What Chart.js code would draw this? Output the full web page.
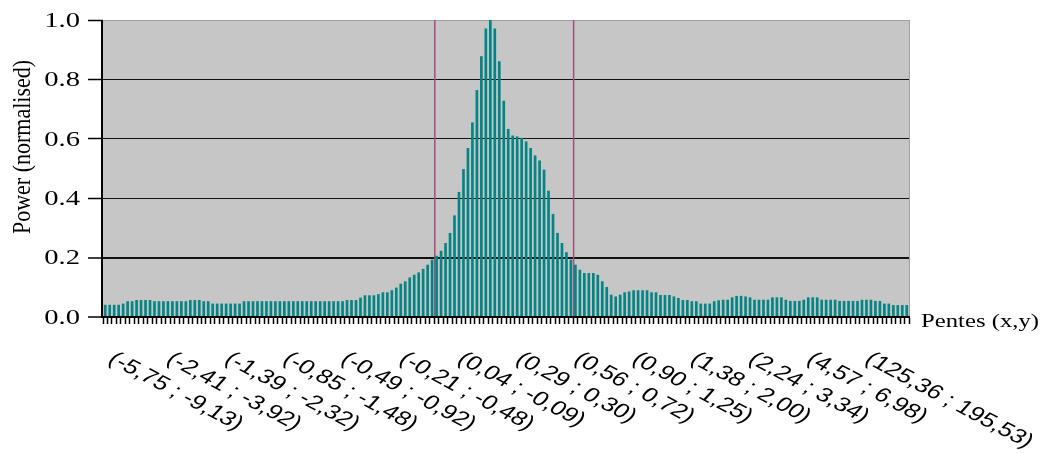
<!DOCTYPE html>
<html><head><meta charset="utf-8">
<script src="https://cdn.jsdelivr.net/npm/chart.js@4/dist/chart.umd.min.js"></script>
<style>html,body{margin:0;padding:0;background:#fff}canvas{display:block}</style>
</head><body>
<canvas id="c" width="1040" height="453" style="width:1040px;height:453px"></canvas>
<script>
// ---- data ----
const values = [
  0.040,0.040,0.040,0.040,0.044,0.052,0.052,0.056,0.056,0.056,
  0.056,0.052,0.052,0.052,0.052,0.052,0.052,0.052,0.052,0.056,
  0.056,0.056,0.052,0.052,0.044,0.044,0.044,0.044,0.044,0.044,
  0.044,0.052,0.052,0.052,0.052,0.052,0.052,0.052,0.052,0.052,
  0.052,0.052,0.052,0.052,0.052,0.052,0.052,0.052,0.052,0.052,
  0.052,0.052,0.052,0.052,0.056,0.056,0.056,0.064,0.072,0.072,
  0.072,0.076,0.082,0.082,0.089,0.098,0.111,0.119,0.132,0.141,
  0.149,0.161,0.175,0.192,0.205,0.222,0.248,0.282,0.341,0.420,
  0.497,0.568,0.654,0.763,0.877,0.970,1.000,0.970,0.860,0.727,
  0.632,0.610,0.607,0.602,0.590,0.568,0.543,0.526,0.495,0.424,
  0.346,0.282,0.248,0.217,0.192,0.175,0.158,0.147,0.147,0.147,
  0.141,0.119,0.100,0.074,0.068,0.074,0.082,0.085,0.089,0.089,
  0.089,0.089,0.082,0.082,0.073,0.073,0.073,0.068,0.063,0.056,
  0.056,0.052,0.052,0.044,0.044,0.044,0.052,0.055,0.057,0.057,
  0.065,0.070,0.070,0.068,0.065,0.057,0.057,0.057,0.057,0.065,
  0.065,0.065,0.057,0.053,0.053,0.053,0.057,0.065,0.065,0.065,
  0.057,0.057,0.057,0.057,0.053,0.053,0.053,0.053,0.053,0.057,
  0.057,0.057,0.053,0.053,0.044,0.044,0.039,0.039,0.039,0.039
];
const tickLabels = [
  "(-5,75 ; -9,13)", "(-2,41 ; -3,92)", "(-1,39 ; -2,32)", "(-0,85 ; -1,48)",
  "(-0,49 ; -0,92)", "(-0,21 ; -0,48)", "(0,04 ; -0,09)", "(0,29 ; 0,30)",
  "(0,56 ; 0,72)", "(0,90 ; 1,25)", "(1,38 ; 2,00)", "(2,24 ; 3,34)",
  "(4,57 ; 6,98)", "(125,36 ; 195,53)"
];
const labelEvery = 13;
const yTicks = [0, 0.2, 0.4, 0.6, 0.8, 1.0];
const markerPositions = [73.6, 104.6];
const yTitle = "Power (normalised)";
const xTitle = "Pentes (x,y)";
const categories = values.map((_, i) => String(i));

const STRETCH = 1.3;
const X_ANGLE = Math.atan(Math.tan(28 * Math.PI / 180) * STRETCH);

const decor = {
  id: 'decor',
  beforeDraw(chart) {
    const { ctx, chartArea: a } = chart;
    ctx.save();
    ctx.fillStyle = '#c6c6c6';
    ctx.fillRect(a.left - 2, a.top, a.right - a.left + 2, a.bottom - a.top);
    ctx.restore();
  },
  beforeDatasetsDraw(chart) {
    const { ctx, chartArea: a } = chart;
    const xs = chart.scales.x;
    ctx.save();
    ctx.strokeStyle = '#a0507a';
    ctx.lineWidth = 1.5;
    markerPositions.forEach(p => {
      const x = xs.getPixelForValue(p);
      ctx.beginPath(); ctx.moveTo(x, a.top); ctx.lineTo(x, a.bottom); ctx.stroke();
    });
    ctx.restore();
  },
  afterDraw(chart) {
    const { ctx, chartArea: a } = chart;
    const xs = chart.scales.x, ys = chart.scales.y;
    ctx.save();
    // right border
    ctx.strokeStyle = '#a0a0a0'; ctx.lineWidth = 1;
    ctx.beginPath(); ctx.moveTo(a.right + 0.5, a.top); ctx.lineTo(a.right + 0.5, a.bottom); ctx.stroke();
    // axes lines
    ctx.strokeStyle = '#000'; ctx.lineWidth = 2;
    ctx.beginPath(); ctx.moveTo(a.left - 1, a.top); ctx.lineTo(a.left - 1, a.bottom + 1); ctx.stroke();
    ctx.beginPath(); ctx.moveTo(a.left - 2, a.bottom); ctx.lineTo(a.right + 1, a.bottom); ctx.stroke();
    ctx.fillStyle = '#000';
    // y tick labels
    ctx.font = '22px "Liberation Serif"';
    ctx.textAlign = 'right'; ctx.textBaseline = 'middle';
    yTicks.forEach(v => {
      const y = ys.getPixelForValue(v);
      ctx.save(); ctx.translate(80, y + 1); ctx.scale(STRETCH, 1);
      ctx.fillText(v.toFixed(1), 0, 0); ctx.restore();
    });
    // y title
    ctx.save(); ctx.translate(23, 147); ctx.scale(1.15, 1); ctx.rotate(-Math.PI / 2);
    ctx.textAlign = 'center'; ctx.textBaseline = 'middle';
    ctx.fillText(yTitle, 0, 0); ctx.restore();
    // x title
    ctx.save(); ctx.translate(a.right + 12, a.bottom + 5); ctx.scale(STRETCH, 1);
    ctx.font = '19px "Liberation Serif"'; ctx.textAlign = 'left'; ctx.textBaseline = 'middle';
    ctx.fillText(xTitle, 0, 0); ctx.restore();
    // x labels
    ctx.font = '20px "Liberation Sans"'; ctx.textAlign = 'left'; ctx.textBaseline = 'top';
    tickLabels.forEach((t, j) => {
      const x = xs.getPixelForValue(j * labelEvery) + 13;
      ctx.save(); ctx.translate(x, a.bottom + 32); ctx.scale(STRETCH, 1); ctx.rotate(X_ANGLE);
      ctx.fillText(t, 0, 0); ctx.restore();
    });
    ctx.restore();
  }
};

new Chart(document.getElementById('c'), {
  type: 'bar',
  data: {
    labels: categories,
    datasets: [{ data: values, backgroundColor: '#008484', borderWidth: 0, barThickness: 2 }]
  },
  options: {
    responsive: false, animation: false, devicePixelRatio: 1,
    layout: { padding: { left: 0, top: 20, right: 131, bottom: 116 } },
    plugins: { legend: { display: false }, tooltip: { enabled: false } },
    scales: {
      x: {
        ticks: { display: false },
        afterFit: s => { s.height = 20; },
        border: { display: true, color: '#000', width: 2 },
        grid: { drawOnChartArea: false, drawTicks: true, tickLength: 7, tickColor: '#000', tickWidth: 1.5 }
      },
      y: {
        min: 0, max: 1,
        afterBuildTicks: s => { s.ticks = yTicks.map(v => ({ value: v })); },
        ticks: { display: false },
        afterFit: s => { s.width = 103; },
        border: { display: false },
        grid: {
          color: c => (c.tick && c.tick.value === 1) ? '#a0a0a0' : '#111',
          lineWidth: c => (c.tick && (Math.abs(c.tick.value - 0.2) < 1e-9 || c.tick.value === 0)) ? 2 : 1,
          tickColor: '#000', tickLength: 15, tickWidth: 1.5, drawTicks: true
        }
      }
    }
  },
  plugins: [decor]
});
</script>
</body></html>
